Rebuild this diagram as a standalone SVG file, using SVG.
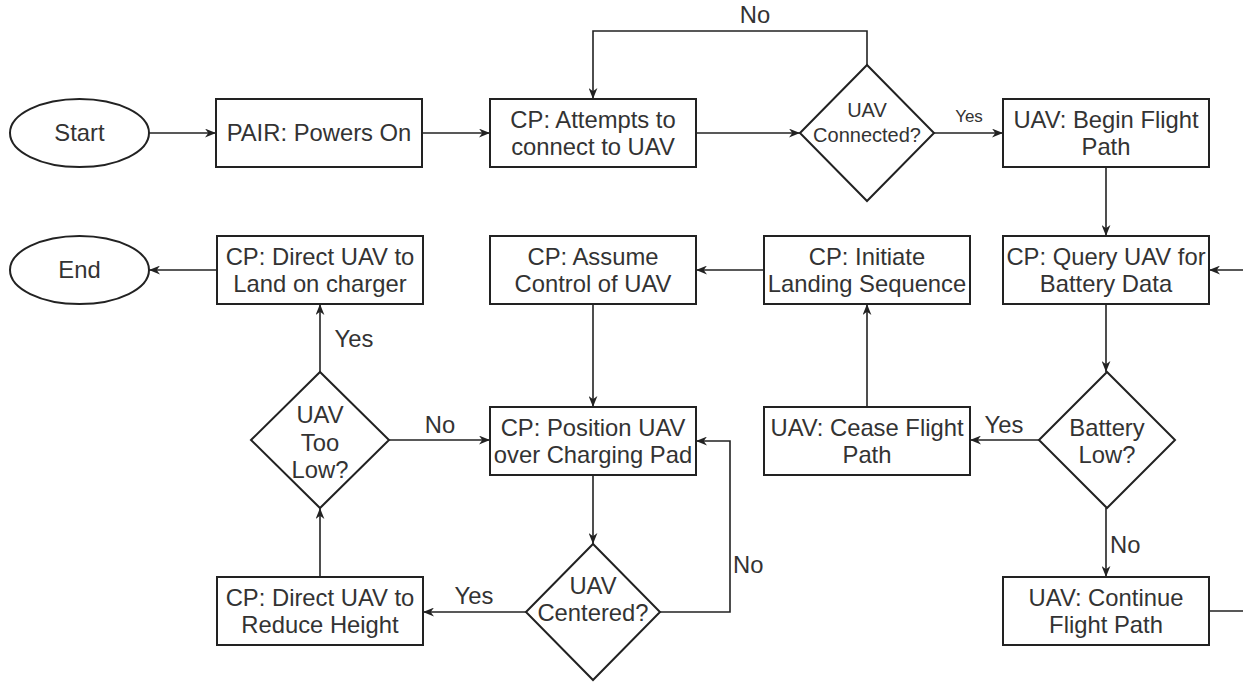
<svg xmlns="http://www.w3.org/2000/svg" width="1243" height="685" viewBox="0 0 1243 685">
<style>
.sh{fill:#fff;stroke:#222;stroke-width:2}
.t{font-family:"Liberation Sans",Arial,sans-serif;font-size:23.8px;fill:#333;text-anchor:middle}
.s{font-size:20px}
.ys{font-size:17px}
.c{fill:none;stroke:#222;stroke-width:1.6}
.a{marker-end:url(#ah)}
</style>
<defs>
<marker id="ah" viewBox="0 0 10 8" refX="10" refY="4" markerWidth="11" markerHeight="9" orient="auto" markerUnits="userSpaceOnUse">
<path d="M0,0 L10,4 L0,8 L3,4 z" fill="#222"/>
</marker>
</defs>
<g id="connectors">
<path class="c a" d="M149,133 H216"/>
<path class="c a" d="M422,133 H490"/>
<path class="c a" d="M696,133 H800"/>
<path class="c a" d="M867,65 V31 H593 V99"/>
<path class="c a" d="M934,133 H1003"/>
<path class="c a" d="M1106,167 V236"/>
<path class="c a" d="M1106,304 V372"/>
<path class="c a" d="M1039,440 H970"/>
<path class="c a" d="M1106,508 V577"/>
<path class="c a" d="M1209,611 H1253 V270 H1209"/>
<path class="c a" d="M867,407 V304"/>
<path class="c a" d="M764,270 H696"/>
<path class="c a" d="M593,304 V407"/>
<path class="c a" d="M593,475 V544"/>
<path class="c a" d="M660,612 H730 V441 H696"/>
<path class="c a" d="M526,612 H423"/>
<path class="c a" d="M320,577 V508"/>
<path class="c a" d="M389,440 H490"/>
<path class="c a" d="M320,372 V304"/>
<path class="c a" d="M217,270 H149"/>
<text class="t" x="755" y="23">No</text>
<text class="t ys" x="969" y="122">Yes</text>
<text class="t" x="1004" y="433">Yes</text>
<text class="t" x="1110" y="553" style="text-anchor:start">No</text>
<text class="t" x="733" y="573" style="text-anchor:start">No</text>
<text class="t" x="474" y="604">Yes</text>
<text class="t" x="440" y="433">No</text>
<text class="t" x="354" y="347">Yes</text>
</g>
<g id="start"><ellipse class="sh" cx="79.5" cy="133" rx="69.5" ry="34"/><text class="t" x="79.5" y="141">Start</text></g>
<g id="pair"><rect class="sh" x="216" y="99" width="206" height="68"/><text class="t" x="319" y="141">PAIR: Powers On</text></g>
<g id="attempt"><rect class="sh" x="490" y="99" width="206" height="68"/><text class="t" x="593" y="128">CP: Attempts to</text><text class="t" x="593" y="155">connect to UAV</text></g>
<g id="connected"><polygon class="sh" points="800,133 867,65 934,133 867,201"/><text class="t s" x="867" y="117">UAV</text><text class="t s" x="867" y="142">Connected?</text></g>
<g id="begin"><rect class="sh" x="1003" y="99" width="206" height="68"/><text class="t" x="1106" y="128">UAV: Begin Flight</text><text class="t" x="1106" y="155">Path</text></g>
<g id="query"><rect class="sh" x="1003" y="236" width="206" height="68"/><text class="t" x="1106" y="265">CP: Query UAV for</text><text class="t" x="1106" y="292">Battery Data</text></g>
<g id="battery"><polygon class="sh" points="1039,440 1107,372 1175,440 1107,508"/><text class="t" x="1107" y="436">Battery</text><text class="t" x="1107" y="463">Low?</text></g>
<g id="continue"><rect class="sh" x="1003" y="577" width="206" height="68"/><text class="t" x="1106" y="606">UAV: Continue</text><text class="t" x="1106" y="633">Flight Path</text></g>
<g id="cease"><rect class="sh" x="764" y="407" width="206" height="68"/><text class="t" x="867" y="436">UAV: Cease Flight</text><text class="t" x="867" y="463">Path</text></g>
<g id="initiate"><rect class="sh" x="764" y="236" width="206" height="68"/><text class="t" x="867" y="265">CP: Initiate</text><text class="t" x="867" y="292">Landing Sequence</text></g>
<g id="assume"><rect class="sh" x="490" y="236" width="206" height="68"/><text class="t" x="593" y="265">CP: Assume</text><text class="t" x="593" y="292">Control of UAV</text></g>
<g id="position"><rect class="sh" x="490" y="407" width="206" height="68"/><text class="t" x="593" y="436">CP: Position UAV</text><text class="t" x="593" y="463">over Charging Pad</text></g>
<g id="centered"><polygon class="sh" points="526,612 593,544 660,612 593,680"/><text class="t" x="593" y="594">UAV</text><text class="t" x="593" y="621">Centered?</text></g>
<g id="reduce"><rect class="sh" x="217" y="577" width="206" height="68"/><text class="t" x="320" y="606">CP: Direct UAV to</text><text class="t" x="320" y="633">Reduce Height</text></g>
<g id="toolow"><polygon class="sh" points="251,440 320,372 389,440 320,508"/><text class="t" x="320" y="423">UAV</text><text class="t" x="320" y="451">Too</text><text class="t" x="320" y="478">Low?</text></g>
<g id="land"><rect class="sh" x="217" y="236" width="206" height="68"/><text class="t" x="320" y="265">CP: Direct UAV to</text><text class="t" x="320" y="292">Land on charger</text></g>
<g id="end"><ellipse class="sh" cx="79.5" cy="270" rx="69.5" ry="34"/><text class="t" x="79.5" y="278">End</text></g>
</svg>
